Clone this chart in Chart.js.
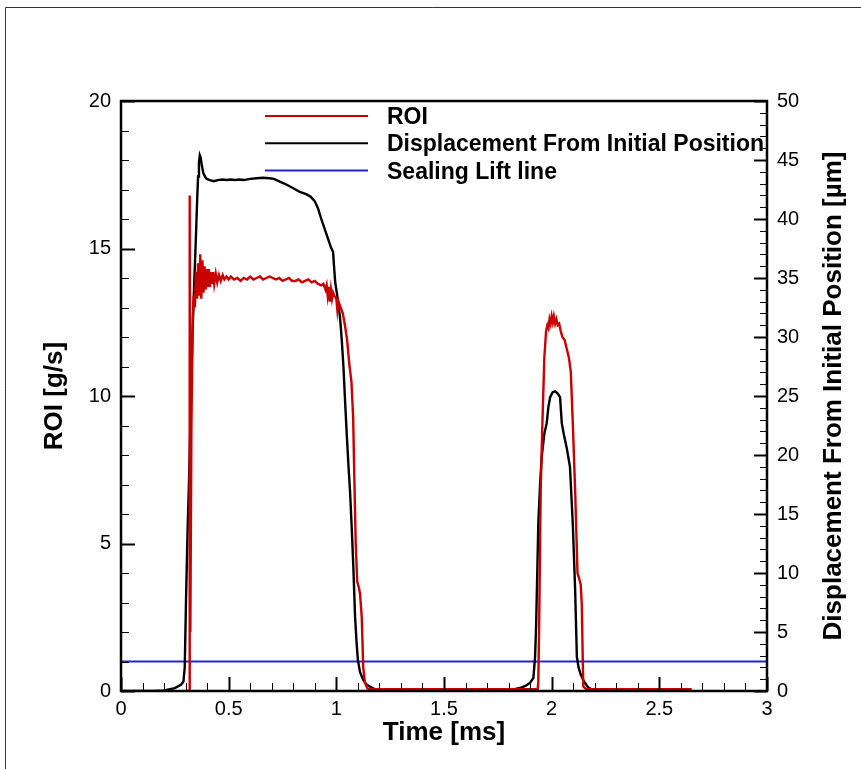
<!DOCTYPE html>
<html><head><meta charset="utf-8">
<script src="https://cdn.jsdelivr.net/npm/chart.js@4.4.1/dist/chart.umd.min.js"></script>
<style>html,body{margin:0;padding:0;background:#fff;}#wrap{width:861px;height:769px;}</style>
</head><body><div id="wrap"><canvas id="c" width="861" height="769"></canvas></div>
<script>
// ---- data ----
const roiTime = [0.30,0.316,0.319,0.322,0.327,0.333,0.338,0.343,0.348,0.353,0.358,0.363,0.368,0.373,0.378,0.383,0.388,0.393,0.398,0.403,0.408,0.413,0.418,0.423,0.428,0.433,0.44,0.447,0.455,0.463,0.472,0.48,0.49,0.5,0.51,0.525,0.54,0.555,0.57,0.585,0.6,0.615,0.63,0.645,0.66,0.675,0.69,0.705,0.72,0.735,0.75,0.765,0.78,0.795,0.81,0.825,0.84,0.855,0.87,0.885,0.9,0.915,0.93,0.94,0.95,0.955,0.96,0.965,0.97,0.975,0.98,0.985,0.99,1.0,1.005,1.01,1.02,1.03,1.04,1.05,1.06,1.07,1.078,1.084,1.09,1.097,1.105,1.11,1.118,1.125,1.133,1.145,1.16,1.4,1.7,1.935,1.938,1.942,1.949,1.957,1.966,1.974,1.98,1.985,1.99,1.995,2.0,2.005,2.01,2.016,2.022,2.028,2.035,2.042,2.05,2.06,2.07,2.08,2.089,2.098,2.109,2.12,2.128,2.135,2.14,2.144,2.147,2.16,2.4,2.65];
const roiValue = [0,0,16.8,2.0,9.0,12.6,13.4,13.0,14.2,13.3,14.5,13.4,14.8,13.3,14.6,13.5,14.4,13.6,14.3,13.7,14.3,13.7,14.2,13.8,14.2,13.8,14.15,13.85,14.1,13.9,14.1,13.95,14.05,13.95,14.05,13.95,14.0,13.9,14.0,13.95,14.05,13.95,14.0,14.05,13.95,14.0,14.05,14.0,13.95,14.0,13.9,13.95,14.0,13.9,13.9,13.95,13.85,13.9,13.95,13.85,13.9,13.8,13.75,13.8,13.6,13.75,13.4,13.7,13.2,13.6,13.3,13.5,13.4,13.3,12.9,13.2,13.0,12.8,12.4,11.9,11.1,10.5,9.3,7.1,5.0,3.7,3.5,3.3,2.5,0.8,0.27,0.08,0.06,0.06,0.06,0.06,0.3,2.3,6.8,9.1,11.3,12.2,12.4,12.3,12.6,12.45,12.7,12.5,12.7,12.45,12.6,12.4,12.45,12.2,12.0,11.9,11.6,11.3,10.8,9.1,6.8,4.0,3.8,3.6,2.9,1.2,0.15,0.06,0.06,0.06];

const dispTime = [0,0.15,0.2,0.25,0.28,0.29,0.296,0.302,0.309,0.316,0.324,0.3315,0.339,0.345,0.35,0.354,0.358,0.362,0.366,0.37,0.375,0.382,0.39,0.398,0.413,0.43,0.45,0.47,0.49,0.51,0.53,0.55,0.57,0.6,0.63,0.66,0.69,0.71,0.74,0.77,0.8,0.83,0.86,0.88,0.9,0.915,0.93,0.945,0.96,0.975,0.985,0.99,0.995,1.005,1.017,1.025,1.033,1.04,1.048,1.056,1.064,1.072,1.079,1.087,1.094,1.1,1.11,1.125,1.14,1.157,1.18,1.22,1.5,1.8,1.853,1.88,1.9,1.915,1.923,1.928,1.938,1.946,1.954,1.966,1.977,1.985,1.993,2.004,2.016,2.028,2.039,2.047,2.058,2.07,2.085,2.098,2.109,2.117,2.125,2.135,2.15,2.17,2.19,2.22];
const dispValue = [0,0,0.05,0.25,0.55,0.8,2.0,7.7,13.5,17.9,24.0,29.9,34.0,37.0,39.6,41.8,43.6,44.8,45.4,45.2,44.6,43.9,43.6,43.4,43.3,43.2,43.3,43.35,43.3,43.35,43.3,43.35,43.3,43.4,43.45,43.5,43.45,43.4,43.15,42.9,42.6,42.3,42.1,41.9,41.5,40.9,40.0,39.2,38.4,37.6,37.2,35.8,34.6,33.4,31.7,29.8,27.5,24.8,21.9,19.2,16.8,13.6,10.5,6.3,4.1,2.64,1.6,0.93,0.55,0.36,0.15,0.05,0.05,0.05,0.25,0.45,0.7,1.1,2.9,5.7,14.2,17.5,19.9,21.8,22.7,24.1,24.9,25.3,25.4,25.2,24.9,22.7,21.6,20.6,19.0,14.2,8.6,2.9,2.0,1.4,0.8,0.3,0.1,0.0];

const sealTime = [0, 3];
const sealValue = [1, 1];

const seriesNames = ['ROI', 'Displacement From Initial Position', 'Sealing Lift line'];
const xTicks = [0, 0.5, 1, 1.5, 2, 2.5, 3];
const xTickLabels = ['0', '0.5', '1', '1.5', '2', '2.5', '3'];
const yLeftTicks = [0, 5, 10, 15, 20];
const yRightTicks = [0, 5, 10, 15, 20, 25, 30, 35, 40, 45, 50];
const xTitle = 'Time [ms]';
const yLeftTitle = 'ROI [g/s]';
const yRightTitle = 'Displacement From Initial Position [\u00b5m]';

// ---- chart ----
const pts = (t, v) => t.map((x, i) => ({x: x, y: v[i]}));
const tickFont = {family: '"Liberation Sans", Arial, sans-serif', size: 20};
const titleFont = 'bold 26px "Liberation Sans", Arial, sans-serif';
const legendFont = 'bold 23px "Liberation Sans", Arial, sans-serif';

const decor = {
  id: 'decor',
  afterDraw(chart) {
    const {ctx, chartArea: a, scales} = chart;
    const x = scales.x, yl = scales.y, yr = scales.y2;
    ctx.save();
    // outer frame (top and left edges)
    ctx.strokeStyle = '#333'; ctx.lineWidth = 1;
    ctx.beginPath(); ctx.moveTo(5.5, 769); ctx.lineTo(5.5, 7.5); ctx.lineTo(861, 7.5); ctx.stroke();
    // ticks
    ctx.strokeStyle = '#000';
    for (let i = 0; i <= 30; i++) {
      const px = Math.round(x.getPixelForValue(i / 10)) + 0.5;
      const major = i % 5 === 0;
      ctx.lineWidth = major ? 2 : 1;
      ctx.beginPath(); ctx.moveTo(px, a.bottom); ctx.lineTo(px, a.bottom - (major ? 14 : 8)); ctx.stroke();
    }
    for (let i = 0; i <= 20; i++) {
      const py = Math.round(yl.getPixelForValue(i)) + 0.5;
      const major = i % 5 === 0;
      ctx.lineWidth = major ? 2 : 1;
      ctx.beginPath(); ctx.moveTo(a.left, py); ctx.lineTo(a.left + (major ? 14 : 8), py); ctx.stroke();
    }
    for (let i = 0; i <= 50; i++) {
      const py = Math.round(yr.getPixelForValue(i)) + 0.5;
      const major = i % 5 === 0;
      ctx.lineWidth = major ? 2 : 1;
      ctx.beginPath(); ctx.moveTo(a.right, py); ctx.lineTo(a.right - (major ? 13 : 7), py); ctx.stroke();
    }
    // plot frame
    ctx.lineWidth = 2.5;
    ctx.strokeRect(a.left, a.top, a.right - a.left, a.bottom - a.top);
    // legend
    ctx.font = legendFont; ctx.textAlign = 'left'; ctx.textBaseline = 'alphabetic';
    chart.data.datasets.forEach((ds, i) => {
      const ly = 116 + i * 27.3;
      ctx.strokeStyle = ds.borderColor; ctx.lineWidth = 2;
      ctx.beginPath(); ctx.moveTo(265, ly); ctx.lineTo(368, ly); ctx.stroke();
      ctx.fillStyle = '#000';
      ctx.fillText(ds.label, 387, ly + 8);
    });
    // axis titles
    ctx.fillStyle = '#000'; ctx.font = titleFont; ctx.textAlign = 'center';
    ctx.fillText(xTitle, (a.left + a.right) / 2, 740);
    ctx.save(); ctx.translate(62, (a.top + a.bottom) / 2); ctx.rotate(-Math.PI / 2);
    ctx.fillText(yLeftTitle, 0, 0); ctx.restore();
    ctx.save(); ctx.translate(841, (a.top + a.bottom) / 2); ctx.rotate(-Math.PI / 2);
    ctx.fillText(yRightTitle, 0, 0); ctx.restore();
    ctx.restore();
  }
};

new Chart(document.getElementById('c'), {
  type: 'line',
  data: {
    datasets: [
      {label: seriesNames[0], data: pts(roiTime, roiValue), borderColor: '#c80000', borderWidth: 2.4, pointRadius: 0, yAxisID: 'y', xAxisID: 'x', tension: 0},
      {label: seriesNames[1], data: pts(dispTime, dispValue), borderColor: '#000000', borderWidth: 2.4, pointRadius: 0, yAxisID: 'y2', xAxisID: 'x', tension: 0},
      {label: seriesNames[2], data: pts(sealTime, sealValue), borderColor: '#2424d6', borderWidth: 2.2, pointRadius: 0, yAxisID: 'y', xAxisID: 'x', tension: 0}
    ]
  },
  options: {
    responsive: false, animation: false, devicePixelRatio: 1,
    layout: {padding: {top: 101, left: 0, right: 0, bottom: 0}},
    plugins: {legend: {display: false}, tooltip: {enabled: false}},
    scales: {
      x: {
        type: 'linear', position: 'bottom', min: 0, max: 3,
        grid: {display: false, drawTicks: false}, border: {display: false},
        afterBuildTicks: s => { s.ticks = xTicks.map(v => ({value: v})); },
        afterFit: s => { s.height = 78; },
        ticks: {font: tickFont, color: '#000', padding: 6, maxRotation: 0, autoSkip: false,
          callback: (v) => xTickLabels[xTicks.indexOf(v)] }
      },
      y: {
        type: 'linear', position: 'left', min: 0, max: 20,
        grid: {display: false, drawTicks: false}, border: {display: false},
        afterBuildTicks: s => { s.ticks = yLeftTicks.map(v => ({value: v})); },
        afterFit: s => { s.width = 121; },
        ticks: {font: tickFont, color: '#000', padding: 10, autoSkip: false, callback: v => String(v)}
      },
      y2: {
        type: 'linear', position: 'right', min: 0, max: 50,
        grid: {display: false, drawTicks: false}, border: {display: false},
        afterBuildTicks: s => { s.ticks = yRightTicks.map(v => ({value: v})); },
        afterFit: s => { s.width = 94; },
        ticks: {font: tickFont, color: '#000', padding: 10, autoSkip: false, callback: v => String(v)}
      }
    }
  },
  plugins: [decor]
});
</script></body></html>
